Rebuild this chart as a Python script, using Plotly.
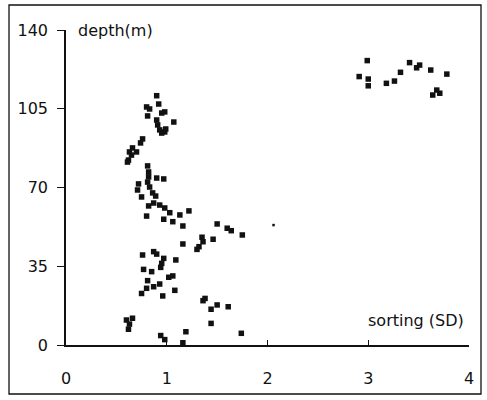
import plotly.graph_objects as go

# sorting (SD) values and depth (m)
sorting = [
    0.90, 0.92, 0.80, 0.83, 0.98, 0.95, 0.81, 1.07, 0.90, 0.91, 0.93, 0.98, 0.99, 0.95,
    0.76, 0.74, 0.66, 0.63, 0.70, 0.65, 0.62, 0.61,
    0.81, 0.82, 0.82, 0.90, 0.97, 0.72, 0.81, 0.71, 0.83, 0.86, 0.75, 0.89, 0.82, 0.87,
    0.93, 0.98, 0.80, 1.03, 1.13, 1.22, 0.97, 1.06, 1.16, 1.50, 1.60, 1.64, 1.75, 1.35,
    1.36, 1.32, 1.30, 1.46, 1.16,
    1.09, 0.87, 0.90, 0.97, 0.95, 0.94, 0.76, 0.77, 0.85, 1.02, 1.06, 0.81, 1.08, 0.80,
    0.75, 0.87, 0.93, 0.96,
    0.60, 0.66, 0.63, 0.62, 0.94, 0.98, 1.19, 1.16, 1.36, 1.38, 1.44, 1.50, 1.61, 1.44, 1.74,
    2.99, 2.91, 3.00, 3.00, 3.18, 3.26, 3.32, 3.41, 3.48, 3.51, 3.62, 3.78, 3.64, 3.68, 3.71,
]
depth = [
    110.8, 107.1, 105.8, 104.9, 103.6, 103.1, 101.8, 99.1, 100.0, 97.8, 95.6, 94.7, 96.0, 94.2,
    91.6, 89.8, 87.6, 85.8, 85.8, 84.4, 82.2, 81.3,
    79.6, 76.9, 74.7, 74.2, 73.8, 71.6, 72.4, 68.9, 70.2, 67.6, 65.8, 66.2, 61.8, 63.1,
    62.2, 60.9, 57.3, 58.8, 57.8, 59.6, 55.9, 54.8, 52.9, 53.8, 51.9, 50.8, 48.9, 47.9,
    45.9, 43.7, 42.5, 47.0, 44.9,
    37.8, 41.5, 40.4, 38.5, 36.3, 34.5, 40.0, 33.6, 32.6, 30.1, 30.7, 28.6, 24.3, 25.2,
    22.9, 25.9, 27.1, 21.8,
    11.1, 11.9, 9.3, 7.0, 4.2, 2.4, 5.9, 1.0, 19.7, 20.7, 15.9, 17.8, 17.0, 9.6, 5.2,
    126.4, 119.3, 118.2, 115.2, 116.3, 117.3, 121.2, 125.5, 123.2, 124.4, 122.2, 120.4, 111.1, 113.3, 111.9,
]
# single tiny point
small_sorting = [2.06]
small_depth = [53.3]

x_ticks = [0, 1, 2, 3, 4]
y_ticks = [0, 35, 70, 105, 140]

FONT = "DejaVu Sans"
INK = "#111111"

fig = go.Figure()
fig.add_trace(go.Scatter(
    x=sorting, y=depth, mode="markers",
    marker=dict(symbol="square", size=5.5, color=INK, line=dict(width=0)),
    showlegend=False,
))
fig.add_trace(go.Scatter(
    x=small_sorting, y=small_depth, mode="markers",
    marker=dict(symbol="square", size=2.5, color=INK, line=dict(width=0)),
    showlegend=False,
))

W, H = 487, 400
ml, mr, mt, mb = 66, 18, 30, 55
pw, ph = W - ml - mr, H - mt - mb

def px(x):
    return (x - ml) / pw

def py(y):
    return (H - mb - y) / ph

fig.update_layout(
    width=W, height=H,
    margin=dict(l=ml, r=mr, t=mt, b=mb, pad=0),
    paper_bgcolor="white", plot_bgcolor="white",
    font=dict(family=FONT, size=16, color=INK),
    xaxis=dict(
        range=[0, 4], tickvals=x_ticks, ticktext=[str(v) for v in x_ticks],
        showgrid=False, zeroline=False, showline=True, linecolor=INK, linewidth=1.5,
        ticks="inside", ticklen=5, tickwidth=1.3, tickcolor=INK,
        ticklabelstandoff=18,
    ),
    yaxis=dict(
        range=[0, 140], tickvals=y_ticks, ticktext=[str(v) for v in y_ticks],
        showgrid=False, zeroline=False, showline=True, linecolor=INK, linewidth=1.5,
        ticks="outside", ticklen=7, tickwidth=1.3, tickcolor=INK,
        ticklabelstandoff=6,
    ),
    shapes=[dict(
        type="rect", xref="paper", yref="paper",
        x0=px(9), x1=px(481), y0=py(394), y1=py(5),
        line=dict(color=INK, width=1.3), fillcolor="rgba(0,0,0,0)",
    )],
    annotations=[
        dict(text="depth(m)", xref="paper", yref="paper", x=px(76), y=py(30),
             xanchor="left", yanchor="middle", showarrow=False,
             font=dict(family=FONT, size=16, color=INK)),
        dict(text="sorting (SD)", xref="paper", yref="paper", x=px(466), y=py(320),
             xanchor="right", yanchor="middle", showarrow=False,
             font=dict(family=FONT, size=16, color=INK)),
    ],
)

fig.write_html("out.html")
